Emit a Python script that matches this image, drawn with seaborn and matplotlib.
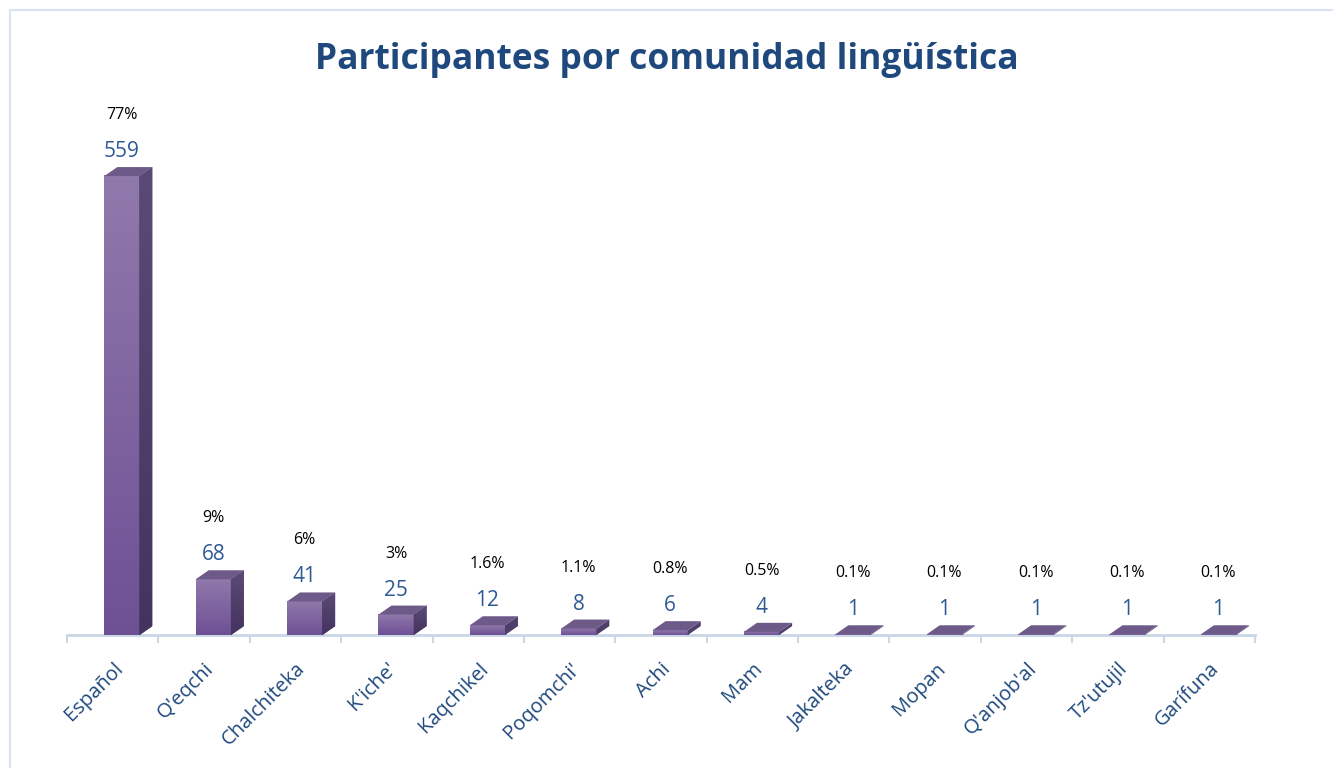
import numpy as np
import pandas as pd
import matplotlib.pyplot as plt
import seaborn as sns
from matplotlib.patches import Polygon, Rectangle
from matplotlib.colors import LinearSegmentedColormap

# datos
comunidades = ["Español", "Q'eqchi", "Chalchiteka", "K'iche'", "Kaqchikel", "Poqomchi'",
               "Achi", "Mam", "Jakalteka", "Mopan", "Q'anjob'al", "Tz'utujil", "Garífuna"]
participantes = [559, 68, 41, 25, 12, 8, 6, 4, 1, 1, 1, 1, 1]
porcentajes = ["77%", "9%", "6%", "3%", "1.6%", "1.1%", "0.8%", "0.5%",
               "0.1%", "0.1%", "0.1%", "0.1%", "0.1%"]

df = pd.DataFrame({'comunidad': comunidades, 'n': participantes})

sns.set_style('white')
plt.rcParams['font.family'] = ['Open Sans', 'DejaVu Sans']

azul = '#1F497D'
fig = plt.figure(figsize=(13.33, 7.68), dpi=100)
ax = fig.add_axes([0.0503, 0.173, 0.8912, 0.695])

sns.barplot(data=df, x='comunidad', y='n', color='#7E62A0', width=0.385, ax=ax, zorder=2)

grad = LinearSegmentedColormap.from_list('morado', ['#6E5095', '#9079AB'])
grad_lado = LinearSegmentedColormap.from_list('lado', ['#44335F', '#5A4A75'])
dx, dy = 0.142, 11
shift = 0.1
for p in ax.patches[:len(participantes)]:
    x0 = p.get_x() + shift
    w = p.get_width()
    h = p.get_height()
    p.set_x(x0)
    p.set_visible(False)
    # cara frontal con degradado
    ax.imshow(np.linspace(0, 1, 100).reshape(-1, 1)[::-1], cmap=grad, aspect='auto',
              extent=[x0, x0 + w, 0, h], zorder=3, interpolation='bilinear')
    # cara lateral
    lado = Polygon([(x0 + w, 0), (x0 + w + dx, dy), (x0 + w + dx, h + dy), (x0 + w, h)],
                   closed=True, facecolor='#4F3E69', edgecolor='none', zorder=3)
    ax.add_patch(lado)
    if h > 20:
        im = ax.imshow(np.linspace(0, 1, 100).reshape(-1, 1)[::-1], cmap=grad_lado, aspect='auto',
                       extent=[x0 + w, x0 + w + dx, 0, h + dy], zorder=3, interpolation='bilinear')
        im.set_clip_path(lado)
    # cara superior
    ax.add_patch(Polygon([(x0, h), (x0 + w, h), (x0 + w + dx, h + dy), (x0 + dx, h + dy)],
                         closed=True, facecolor='#6E5A88', edgecolor='none', zorder=3))

for i, (v, pc) in enumerate(zip(participantes, porcentajes)):
    xc = i + shift
    ax.annotate(str(v), (xc, v + dy), xytext=(0, 10), textcoords='offset pixels',
                ha='center', va='baseline', fontsize=15, color='#2E5A94')
    ax.annotate(pc, (xc, v + dy), xytext=(0, 48), textcoords='offset pixels',
                ha='center', va='baseline', fontsize=11.5, color='black')

ax.set_xlim(-0.5, len(comunidades) - 0.5)
ax.set_ylim(0, 650)
ax.set_xlabel('')
ax.set_ylabel('')
ax.set_yticks([])
for s in ['left', 'top', 'right']:
    ax.spines[s].set_visible(False)
ax.spines['bottom'].set_color('#C9D6E6')
ax.spines['bottom'].set_linewidth(2)

ax.set_xticks(range(len(comunidades)))
ax.set_xticklabels(comunidades, rotation=45, ha='right', va='top', rotation_mode='anchor',
                   fontsize=14.5, color=azul)
ax.tick_params(axis='x', which='major', length=0, pad=17)
ax.set_xticks(np.arange(-0.5, len(comunidades)), minor=True)
ax.tick_params(axis='x', which='minor', length=6, width=1.5, color='#C9D6E6', direction='out', bottom=True)

fig.text(0.5, 0.922, 'Participantes por comunidad lingüística', ha='center', va='center',
         fontsize=25.5, fontweight='bold', color=azul)

fig.patches.append(Rectangle((0.0075, -0.02), 1.0, 1.02 - 10 / 768, transform=fig.transFigure,
                             fill=False, edgecolor='#D6E4F4', linewidth=1.5))

fig.savefig('out.png', dpi=100)
